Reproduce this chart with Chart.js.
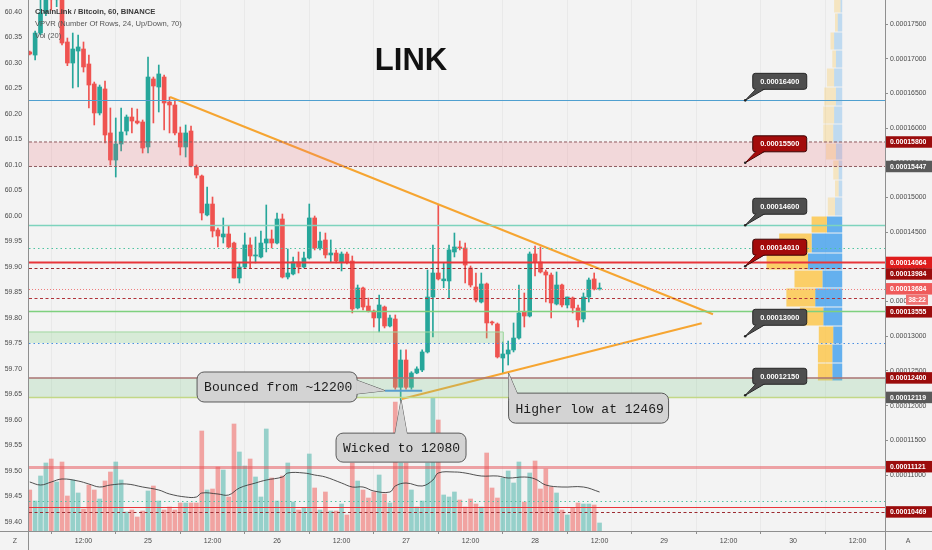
<!DOCTYPE html>
<html><head><meta charset="utf-8">
<script src="https://cdn.jsdelivr.net/npm/chart.js@4.4.1/dist/chart.umd.min.js"></script>
<style>html,body{margin:0;padding:0;background:#f3f3f3;overflow:hidden}#wrap{width:932px;height:550px}</style>
</head><body><div id="wrap"><canvas id="c" width="932" height="550"></canvas></div>
<script>
// ---- DATA (prices in satoshi units: 1 = 0.00000001 BTC) ----
const hours = [2,3,4,5,6,7,8,9,10,11,12,13,14,15,16,17,18,19,20,21,22,23,24,25,26,27,28,29,30,31,32,33,34,35,36,37,38,39,40,41,42,43,44,45,46,47,48,49,50,51,52,53,54,55,56,57,58,59,60,61,62,63,64,65,66,67,68,69,70,71,72,73,74,75,76,77,78,79,80,81,82,83,84,85,86,87,88,89,90,91,92,93,94,95,96,97,98,99,100,101,102,103,104,105,106,107,108];
const opens = [17097,17053,17370,17659,17950,17850,17900,17241,16938,17111,
 17140,16924,16636,16218,16564,15930,15540,15771,15958,16160,
 16102,16088,15728,16708,16592,16736,16376,16333,15930,15728,
 15958,15440,15310,14748,14906,14532,14431,14474,14344,13840,
 13998,14316,14157,14143,14344,14402,14344,14690,13854,13898,
 14071,13998,14128,14705,14272,14388,14172,14200,14071,14186,
 14085,13408,13696,13436,13364,13264,13422,13148,13249,12265,
 12658,12265,12471,12514,12774,13566,13912,13800,13797,14215,
 14287,14272,13984,13710,13494,13754,13206,13177,12687,12745,
 12803,12975,13350,13292,14186,14071,13927,13883,13465,13739,
 13451,13552,13408,13249,13566,13826,13681];
const highs = [17111,17399,17900,18050,18000,18000,17950,17298,17370,17342,
 17241,17053,16664,16621,16679,16290,16146,16290,16189,16290,
 16275,16117,17025,16736,16909,16765,16448,16405,16016,16045,
 16030,15468,15324,15151,15007,14561,14705,14589,14359,14056,
 14488,14417,14431,14517,14892,14532,14777,14762,14258,14143,
 14215,14215,14906,14733,14503,14488,14388,14244,14215,14215,
 14157,13739,13710,13552,13379,13595,13436,13307,13307,12803,
 12803,12490,12560,12803,13955,14316,14892,14056,14316,14488,
 14373,14344,14013,13912,13912,13768,13220,13192,12918,12932,
 13192,13739,13624,14215,14301,14287,13955,13912,13927,13754,
 13566,13566,13451,13624,13840,13912,13768];
const lows = [17054,16981,17342,17620,17700,17750,17200,16900,16578,16593,
 16808,16290,16045,16189,15785,15468,15295,15670,15901,15930,
 16059,15641,15641,16074,16232,15973,15930,15901,15612,15584,
 15440,15281,14676,14733,14431,14287,14344,14272,13840,13768,
 13984,13984,14056,14128,14215,14272,14330,13840,13826,13883,
 13912,13984,14114,14244,14244,14128,14071,14056,13941,14042,
 13336,13393,13379,13350,13134,13062,13120,13134,12237,12080,
 12237,12237,12460,12490,12759,12990,13811,13700,13552,14143,
 14244,13768,13710,13494,13480,12975,13162,12687,12469,12586,
 12774,12960,13134,13278,13869,13912,13494,13264,13451,13422,
 13408,13336,13134,13206,13494,13667,13667];
const closes = [17068,17370,17659,17950,17850,17900,17226,16938,17140,17169,
 16881,16621,16218,16592,15901,15540,15771,15944,16160,16102,
 16074,15713,16736,16607,16780,16362,16333,15930,15728,15930,
 15454,15324,14777,14906,14517,14445,14474,14287,13840,13998,
 14316,14157,14172,14344,14402,14344,14690,13854,13912,14071,
 13998,14128,14705,14272,14373,14172,14200,14085,14186,14071,
 13393,13696,13422,13364,13264,13451,13148,13264,12265,12658,
 12265,12471,12529,12774,13566,13912,13826,13826,14244,14287,
 14272,14027,13739,13523,13754,13192,13192,12702,12745,12803,
 12975,13336,13292,14186,14071,13927,13883,13480,13739,13451,
 13566,13408,13235,13566,13811,13681,13684];
const volumes = [41,30,55,68,72,49,69,35,51,38,
 22,46,41,32,50,59,69,51,19,21,
 14,20,40,45,30,21,24,21,28,28,
 28,28,100,41,42,64,61,34,107,79,
 65,72,54,34,102,53,30,55,68,29,
 21,23,77,43,21,39,20,20,27,16,
 68,50,41,33,39,56,37,28,129,68,
 68,41,24,30,68,133,111,36,34,39,
 31,24,32,27,24,78,43,33,53,60,
 48,69,29,58,70,42,62,44,38,21,
 16,23,28,27,27,26,8];
const volMaHours = [2,4,6,8,11,13,15,17,20,23,26,28,31,33,34,37,39,41,44,46,49,50,53,55,57,60,62,64,66,69,70,72,75,77,78,81,83,86,89,91,94,96,98,101,105,108];
const volMaValues = [49,46,49,52,50,47,44,46,47,44,41,37,34,34,38,37,36,43,48,51,54,58,58,56,54,48,44,44,40,39,45,48,45,51,58,59,58,55,55,53,54,52,46,44,44,39];

// axis ticks
const priceTicks = [17500,17000,16500,16000,15500,15000,14500,14000,13500,13000,12500,12000,11500,11000,10500];
const leftTicks = [60.40,60.35,60.30,60.25,60.20,60.15,60.10,60.05,60.00,59.95,59.90,59.85,59.80,59.75,59.70,59.65,59.60,59.55,59.50,59.45,59.40];
const timeTicks = [12,24,36,48,60,72,84,96,108,120,132,144,156];
const timeTickLabels = ['12:00','25','12:00','26','12:00','27','12:00','28','12:00','29','12:00','30','12:00'];

// horizontal levels drawn on the chart
const levelPrices = [16400,14600,14272,14064,13984,13684,13555,13365,12903,11121,10631,10540,10469];
// zones
const zoneTops = [15800,13062,12400];
const zoneBottoms = [15447,12903,12119];
const zoneEndHours = [161.1,90.1,161.1];
// triangle trendlines
const upperLineHours = [28.1,129.1];
const upperLinePrices = [16448,13317];
const lowerLineHours = [71.2,127.0];
const lowerLinePrices = [12096,13187];
// bounce marker
const bounceHours = [68.1,75.0];
const bouncePrices = [12216,12216];
// price callouts
const calloutPrices = [16400,15500,14600,14010,13000,12150];
const calloutKinds = ['gray','red','gray','red','gray','gray'];
const calloutHour = 135.1;
// text notes
const noteTexts = ['Bounced from ~12200','Wicked to 12080','Higher low at 12469'];
const noteHours = [68.1,71.07,91.07];
const notePrices = [12216,12080,12469];
// right axis price labels
const axisLabelPrices = [15800,15447,14064,13984,13684,13555,12400,12119,11121,10469];
const axisLabelKinds = ['dark','gray','bright','dark','light','dark','dark','gray','dark','dark'];
const countdownText = '38:22';
// volume profile (VPVR) rows, bottom to top
const vpLow  = [12356,12615,12889,13148,13422,13696,13955,14200,14488,14733,15007,15252,15540,15785,16059,16318,16592,16866,17125,17385,17659];
const vpHigh = [12615,12889,13148,13422,13696,13955,14200,14488,14733,15007,15252,15540,15785,16059,16318,16592,16866,17125,17385,17659,17918];
const vpUp   = [11,11,10,21,30,22,38,34,17,8,4,4,7,10,9,7,9,7,9,5,2];
const vpDown = [16,16,16,26,32,31,46,36,17,8,4,6,11,11,12,13,8,4,4,3,7];
const vpValueAreaRows = 9;

// ---- STYLES ----
const UP = '#26a69a', DOWN = '#ef5350';
const levelStyles = [
 ['#4f9fcf',1,[]],['#7dd3bd',1.5,[]],['#4fc3a1',1.2,[1.5,3]],['#e8363b',2,[]],['#9c2a30',1.2,[3,2.5]],
 ['#ef7b7b',1,[1,2]],['#b0323a',1.2,[3,2.5]],['#7ed07e',1.5,[]],['#4a8fe3',1.2,[1.5,3]],
 ['rgba(232,80,85,0.5)',3,[]],['#4fc3a1',1.2,[1.5,3]],['#e8363b',1,[]],['#9c2a30',1.2,[3,2.5]]
];
const FONT = "'Liberation Sans', Arial, sans-serif";
Chart.defaults.font.family = FONT;

const isUp = closes.map((c,i)=>c>=opens[i]);
const candleColors = isUp.map(u=>u?UP:DOWN);
const volColors = isUp.map(u=>u?'rgba(38,166,154,0.45)':'rgba(239,83,80,0.5)');

function rr(ctx,x,y,w,h,r){ctx.beginPath();ctx.moveTo(x+r,y);ctx.arcTo(x+w,y,x+w,y+h,r);ctx.arcTo(x+w,y+h,x,y+h,r);ctx.arcTo(x,y+h,x,y,r);ctx.arcTo(x,y,x+w,y,r);ctx.closePath();}
function noPad(s){s.paddingTop=0;s.paddingBottom=0;s.paddingLeft=0;s.paddingRight=0;}

const overlay = {
 id:'overlay',
 beforeDraw(chart){const c=chart.ctx;c.save();c.fillStyle='#f3f3f3';c.fillRect(0,0,chart.width,chart.height);c.restore();},
 beforeDatasetsDraw(chart){
  const c=chart.ctx, y=chart.scales.y, xv=chart.scales.xv, a=chart.chartArea;
  c.save(); c.beginPath(); c.rect(a.left,a.top,a.right-a.left,a.bottom-a.top); c.clip();
  for(let i=0;i<vpLow.length;i++){
   const t=y.getPixelForValue(vpHigh[i])+0.5, b=y.getPixelForValue(vpLow[i])-0.5;
   const x0=xv.getPixelForValue(0), x1=xv.getPixelForValue(vpUp[i]), x2=xv.getPixelForValue(vpUp[i]+vpDown[i]);
   const al = i<vpValueAreaRows?0.85:0.3;
   c.fillStyle=`rgba(74,163,236,${al})`; c.fillRect(x1,t,x0-x1,b-t);
   c.fillStyle=`rgba(251,199,78,${al})`; c.fillRect(x2,t,x1-x2,b-t);
  }
  c.restore();
 },
 afterDatasetsDraw(chart){
  const c=chart.ctx, x=chart.scales.x, y=chart.scales.y, a=chart.chartArea;
  c.save(); c.beginPath(); c.rect(a.left,a.top,a.right-a.left,a.bottom-a.top); c.clip();
  // zones
  const zFill=['rgba(240,110,120,0.2)','rgba(120,210,120,0.22)','rgba(130,205,145,0.25)'];
  zoneTops.forEach((zt,i)=>{
   const t=y.getPixelForValue(zt), b=y.getPixelForValue(zoneBottoms[i]), xr=x.getPixelForValue(zoneEndHours[i]);
   c.fillStyle=zFill[i]; c.fillRect(a.left,t,xr-a.left,b-t);
   if(i===0){c.strokeStyle='#8e5a5e';c.lineWidth=1;c.setLineDash([3,2]);
     c.beginPath();c.moveTo(a.left,t);c.lineTo(xr,t);c.moveTo(a.left,b);c.lineTo(xr,b);c.stroke();}
   if(i===1){c.strokeStyle='#9fd89f';c.lineWidth=1;c.setLineDash([]);
     c.beginPath();c.moveTo(a.left,t);c.lineTo(xr,t);c.moveTo(xr,t);c.lineTo(xr,b);c.stroke();}
   if(i===2){c.setLineDash([]);c.strokeStyle='rgba(170,115,115,0.75)';c.lineWidth=2;
     c.beginPath();c.moveTo(a.left,t);c.lineTo(xr,t);c.stroke();
     c.strokeStyle='#c2d886';c.lineWidth=1.5;c.beginPath();c.moveTo(a.left,b);c.lineTo(xr,b);c.stroke();}
  });
  // level lines
  levelPrices.forEach((p,i)=>{
   const yy=Math.round(y.getPixelForValue(p))+0.5, s=levelStyles[i];
   c.strokeStyle=s[0];c.lineWidth=s[1];c.setLineDash(s[2]);
   c.beginPath();c.moveTo(a.left,yy);c.lineTo(a.right,yy);c.stroke();
  });
  c.setLineDash([]);
  // price callouts
  calloutPrices.forEach((p,i)=>{
   const ax=x.getPixelForValue(calloutHour), ay=y.getPixelForValue(p);
   const bx=ax+7.5, by=ay-27, bw=54, bh=16;
   const fill=calloutKinds[i]==='red'?'#a30b0b':'#4e4e4e', edge=calloutKinds[i]==='red'?'#3a0505':'#262626';
   c.fillStyle=fill;c.strokeStyle=edge;c.lineWidth=1;
   c.beginPath();c.moveTo(bx+4,by+bh-1);c.lineTo(ax,ay);c.lineTo(bx+13,by+bh-1);c.closePath();c.fill();c.stroke();
   rr(c,bx,by,bw,bh,2.5);c.fill();c.stroke();
   c.beginPath();c.moveTo(bx+4.5,by+bh-1.5);c.lineTo(ax+1,ay-1);c.lineTo(bx+12.5,by+bh-1.5);c.closePath();c.fill();
   c.fillStyle='#222';c.beginPath();c.arc(ax,ay,1.3,0,Math.PI*2);c.fill();
   c.fillStyle='#fff';c.font='bold 7.4px '+FONT;c.textAlign='center';c.textBaseline='middle';
   c.fillText((p/1e8).toFixed(8),bx+bw/2,by+bh/2+0.5);
  });
  // notes
  const boxes=[[-188,-18.7,160,30],[-65,33,130,29],[0,20,160,30]];
  noteTexts.forEach((t,i)=>{
   const ax=x.getPixelForValue(noteHours[i]), ay=y.getPixelForValue(notePrices[i]);
   const [dx,dy,w,h]=boxes[i]; const bx=ax+dx, by=ay+dy;
   let tail;
   if(i===0) tail=[[bx+w-1,by+8],[ax,ay],[bx+w-1,by+22]];
   else if(i===1) tail=[[ax-6,by+1],[ax,ay],[ax+6,by+1]];
   else tail=[[bx+0.5,by+6],[ax,ay],[bx+9,by+1]];
   c.fillStyle='#d3d3d3';c.strokeStyle='#5a5a5a';c.lineWidth=1;
   c.beginPath();c.moveTo(...tail[0]);c.lineTo(...tail[1]);c.lineTo(...tail[2]);c.closePath();c.fill();c.stroke();
   rr(c,bx,by,w,h,7);c.fill();c.stroke();
   c.beginPath();c.moveTo(...tail[0]);c.lineTo(...tail[1]);c.lineTo(...tail[2]);c.closePath();c.fill();
   c.fillStyle='#1c1c1c';c.font="13px 'Liberation Mono', 'Courier New', monospace";c.textAlign='left';c.textBaseline='middle';
   c.fillText(t,bx+7,by+h/2+1);
  });
  c.restore();
 },
 afterDraw(chart){
  const c=chart.ctx, y=chart.scales.y, a=chart.chartArea;
  c.save();
  // borders
  c.strokeStyle='#8f8f8f';c.lineWidth=1;
  c.beginPath();c.moveTo(a.left-0.5,0);c.lineTo(a.left-0.5,550);c.moveTo(a.right+0.5,0);c.lineTo(a.right+0.5,550);
  c.moveTo(0,a.bottom+0.5);c.lineTo(932,a.bottom+0.5);c.stroke();
  // right axis labels
  const cols={dark:'#9b0c0c',gray:'#5a5a5a',bright:'#df1c1c',light:'#ef5a5a'};
  const h=11.5; let prevBottom=-100;
  c.font='bold 6.9px '+FONT;c.textBaseline='middle';c.textAlign='left';
  axisLabelPrices.forEach((p,i)=>{
   let yy=Math.max(y.getPixelForValue(p),prevBottom+h/2);
   c.fillStyle=cols[axisLabelKinds[i]];c.fillRect(a.right+1,yy-h/2,932-a.right,h);
   c.fillStyle='#fff';c.fillText((p/1e8).toFixed(8),a.right+5,yy+0.5);
   prevBottom=yy+h/2;
   if(axisLabelKinds[i]==='light'){
     const cy=prevBottom+h/2-0.5;
     c.fillStyle='#f07272';c.fillRect(a.right+21,cy-5,22,10);
     c.fillStyle='#fff';c.textAlign='center';c.fillText(countdownText,a.right+32,cy+0.5);c.textAlign='left';
     prevBottom=cy+h/2+0.5;
   }
  });
  // header
  c.textAlign='left';c.textBaseline='middle';
  c.fillStyle='#3a3a3a';c.font='bold 7.6px '+FONT;c.fillText('ChainLink / Bitcoin, 60, BINANCE',35,12);
  c.fillStyle='#555';c.font='7.6px '+FONT;c.fillText('VPVR (Number Of Rows, 24, Up/Down, 70)',35,24);
  c.fillText('Vol (20)',35,36);
  // title
  c.fillStyle='#111';c.font='bold 31px '+FONT;c.textAlign='center';c.fillText('LINK',411,61);
  // corners
  c.fillStyle='#555';c.font='7px '+FONT;c.fillText('Z',15,541);c.fillText('A',908,541);
  c.restore();
 }
};

const chart = new Chart(document.getElementById('c'), {
 type:'bar',
 data:{datasets:[
  {type:'line',label:'upper',data:upperLineHours.map((h,i)=>({x:h,y:upperLinePrices[i]})),borderColor:'#f6a531',borderWidth:2,pointRadius:0,yAxisID:'y',order:-2},
  {type:'line',label:'lower',data:lowerLineHours.map((h,i)=>({x:h,y:lowerLinePrices[i]})),borderColor:'#f6a531',borderWidth:2,pointRadius:0,yAxisID:'y',order:-2},
  {type:'line',label:'bounce',data:bounceHours.map((h,i)=>({x:h,y:bouncePrices[i]})),borderColor:'#4a8fe3',borderWidth:2,pointRadius:0,yAxisID:'y',order:-1},
  {label:'body',data:hours.map((h,i)=>({x:h,y:[opens[i],closes[i]]})),backgroundColor:candleColors,barThickness:4,minBarLength:1,grouped:false,yAxisID:'y',order:0},
  {label:'wick',data:hours.map((h,i)=>({x:h,y:[lows[i],highs[i]]})),backgroundColor:candleColors,barThickness:1,grouped:false,yAxisID:'y',order:1},
  {type:'line',label:'volma',data:volMaHours.map((h,i)=>({x:h,y:volMaValues[i]})),borderColor:'#3d3d3d',borderWidth:0.9,pointRadius:0,tension:0.4,yAxisID:'yv',order:4},
  {label:'vol',data:hours.map((h,i)=>({x:h,y:volumes[i]})),backgroundColor:volColors,barThickness:4,grouped:false,yAxisID:'yv',order:5}
 ]},
 options:{
  responsive:false,animation:false,events:[],
  layout:{padding:0},
  plugins:{legend:{display:false},tooltip:{enabled:false}},
  scales:{
   x:{type:'linear',min:1.86,max:161.1,offset:false,position:'bottom',
      afterFit:s=>{s.height=19;noPad(s);},
      afterBuildTicks:s=>{s.ticks=timeTicks.map(v=>({value:v}));},
      border:{display:false},
      grid:{color:'rgba(0,0,0,0.04)',tickColor:'#8f8f8f',tickLength:3},
      ticks:{autoSkip:false,maxRotation:0,color:'#4a4a4a',padding:3,font:{size:7},
        callback:(v)=>timeTickLabels[timeTicks.indexOf(v)]}},
   y:{type:'linear',position:'right',min:10194,max:17846,
      afterFit:s=>{s.width=47;noPad(s);},
      afterBuildTicks:s=>{s.ticks=priceTicks.map(v=>({value:v}));},
      border:{display:false},
      grid:{drawOnChartArea:false,tickColor:'#8f8f8f',tickLength:3},
      ticks:{autoSkip:false,color:'#4a4a4a',padding:2,font:{size:6.9},
        callback:v=>(v/1e8).toFixed(8)}},
   yl:{type:'linear',position:'left',min:59.3824,max:60.4235,
      afterFit:s=>{s.width=29;noPad(s);},
      afterBuildTicks:s=>{s.ticks=leftTicks.map(v=>({value:v}));},
      border:{display:false},
      grid:{display:false,drawTicks:false},
      ticks:{autoSkip:false,color:'#4a4a4a',padding:7,font:{size:6.9},
        callback:v=>v.toFixed(2)}},
   yv:{type:'linear',display:false,min:0,max:531},
   xv:{type:'linear',display:false,min:0,max:856,reverse:true,position:'bottom'}
  }
 },
 plugins:[overlay]
});
</script>
</body></html>
